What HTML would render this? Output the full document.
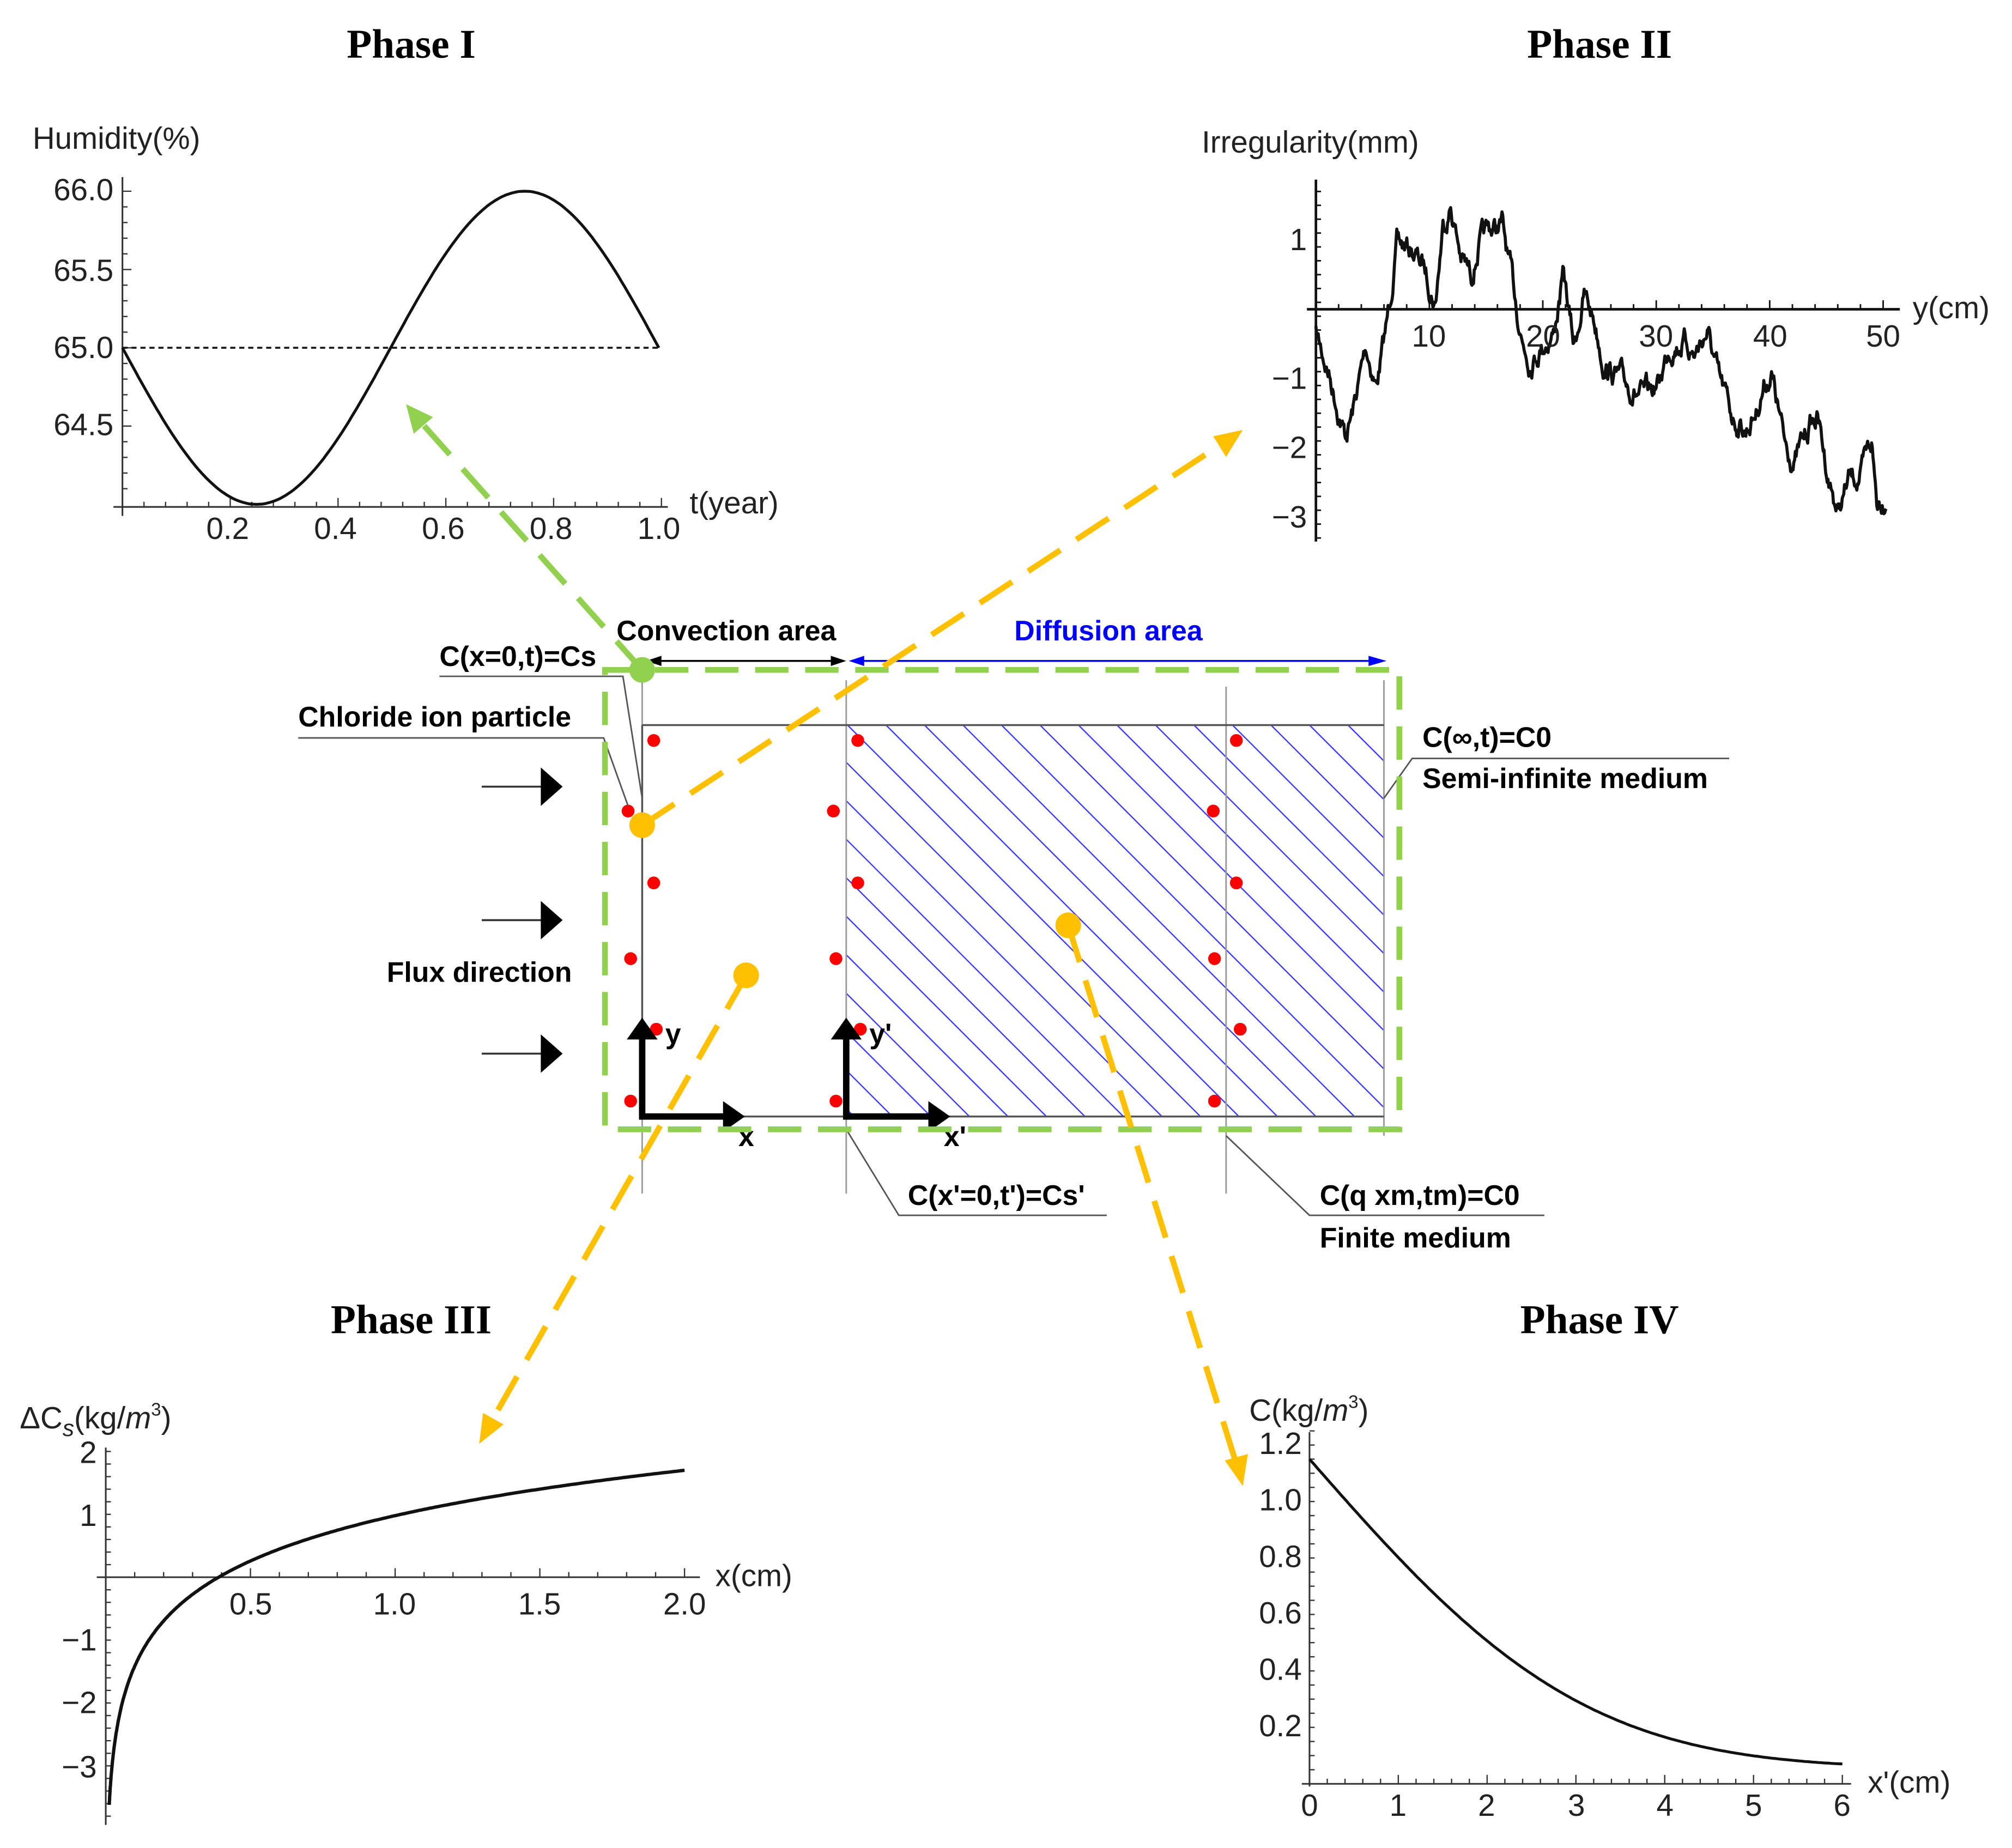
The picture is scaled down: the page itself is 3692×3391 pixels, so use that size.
<!DOCTYPE html>
<html><head><meta charset="utf-8"><style>
html,body{margin:0;padding:0;background:#fff;}
svg{display:block;}
.t{font-family:"Liberation Serif",serif;font-weight:bold;font-size:32px;}
.a{font-family:"Liberation Sans",sans-serif;font-size:24px;fill:#222;}
.b{font-family:"Liberation Sans",sans-serif;font-weight:bold;font-size:22px;}
</style></head><body>
<svg id="s" width="3692" height="3391" viewBox="0 0 1567 1440" xmlns="http://www.w3.org/2000/svg">
<defs>
<clipPath id="hc"><rect x="659" y="565" width="419" height="305"/></clipPath>
</defs>
<rect width="1567" height="1440" fill="#fff"/>

<text class="t" x="320" y="45" text-anchor="middle">Phase I</text>
<text class="t" x="1246" y="45" text-anchor="middle">Phase II</text>
<text class="t" x="320" y="1039" text-anchor="middle">Phase III</text>
<text class="t" x="1246" y="1039" text-anchor="middle">Phase IV</text>

<!-- Plot 1 -->
<g stroke="#333" stroke-width="1.3" fill="none">
<line x1="95" y1="138" x2="95" y2="402"/>
<line x1="88" y1="395" x2="520" y2="395"/>
</g>
<g id="p1ticks" stroke="#333" stroke-width="1"></g>
<path id="p1c" fill="none" stroke="#111" stroke-width="2.2"/>
<line x1="95" y1="271" x2="515" y2="271" stroke="#111" stroke-width="1.5" stroke-dasharray="4 3"/>
<text class="a" x="25" y="116">Humidity(%)</text>
<g class="a" text-anchor="end">
<text x="88" y="156">66.0</text><text x="88" y="219">65.5</text><text x="88" y="279">65.0</text><text x="88" y="339">64.5</text>
</g>
<g class="a" text-anchor="middle">
<text x="177" y="420">0.2</text><text x="261" y="420">0.4</text><text x="345" y="420">0.6</text><text x="429" y="420">0.8</text><text x="513" y="420">1.0</text>
</g>
<text class="a" x="537" y="400">t(year)</text>

<!-- Plot 2 -->
<g stroke="#111" stroke-width="2" fill="none">
<line x1="1025" y1="140" x2="1025" y2="422"/>
<line x1="1018" y1="241" x2="1480" y2="241"/>
</g>
<g id="p2ticks" stroke="#111" stroke-width="1.2"></g>
<path id="p2c" fill="none" stroke="#111" stroke-width="2.4" stroke-linejoin="round"/>
<text class="a" x="936" y="119">Irregularity(mm)</text>
<g class="a" text-anchor="end">
<text x="1018" y="195">1</text><text x="1018" y="303">−1</text><text x="1018" y="357">−2</text><text x="1018" y="411">−3</text>
</g>
<g class="a" text-anchor="middle">
<text x="1113" y="270">10</text><text x="1202" y="270">20</text><text x="1290" y="270">30</text><text x="1379" y="270">40</text><text x="1467" y="270">50</text>
</g>
<text class="a" x="1490" y="248">y(cm)</text>

<!-- Plot 3 -->
<g stroke="#333" stroke-width="1.3" fill="none">
<line x1="82" y1="1128" x2="82" y2="1422"/>
<line x1="75" y1="1229" x2="545" y2="1229"/>
</g>
<g id="p3ticks" stroke="#333" stroke-width="1"></g>
<path id="p3c" fill="none" stroke="#111" stroke-width="2.6"/>
<text class="a" x="15" y="1113">ΔC<tspan font-style="italic" font-size="18" dy="6">s</tspan><tspan dy="-6">(kg/</tspan><tspan font-style="italic">m</tspan><tspan font-size="14" dy="-10">3</tspan><tspan dy="10">)</tspan></text>
<g class="a" text-anchor="end">
<text x="75" y="1140">2</text><text x="75" y="1189">1</text><text x="75" y="1286">−1</text><text x="75" y="1335">−2</text><text x="75" y="1385">−3</text>
</g>
<g class="a" text-anchor="middle">
<text x="195" y="1258">0.5</text><text x="307" y="1258">1.0</text><text x="420" y="1258">1.5</text><text x="533" y="1258">2.0</text>
</g>
<text class="a" x="557" y="1236">x(cm)</text>

<!-- Plot 4 -->
<g stroke="#333" stroke-width="1.3" fill="none">
<line x1="1020" y1="1116" x2="1020" y2="1392"/>
<line x1="1014" y1="1390" x2="1442" y2="1390"/>
</g>
<g id="p4ticks" stroke="#333" stroke-width="1"></g>
<path id="p4c" fill="none" stroke="#111" stroke-width="2.2"/>
<text class="a" x="973" y="1107" font-size="22">C(kg/<tspan font-style="italic">m</tspan><tspan font-size="14" dy="-10">3</tspan><tspan dy="10">)</tspan></text>
<g class="a" text-anchor="end" font-size="21">
<text x="1014" y="1133">1.2</text><text x="1014" y="1177">1.0</text><text x="1014" y="1221">0.8</text><text x="1014" y="1265">0.6</text><text x="1014" y="1309">0.4</text><text x="1014" y="1353">0.2</text>
</g>
<g class="a" text-anchor="middle" font-size="21">
<text x="1020" y="1415">0</text><text x="1089" y="1415">1</text><text x="1158" y="1415">2</text><text x="1228" y="1415">3</text><text x="1297" y="1415">4</text><text x="1366" y="1415">5</text><text x="1435" y="1415">6</text>
</g>
<text class="a" x="1455" y="1397" font-size="22">x'(cm)</text>

<!-- Center diagram -->
<g id="hatch" clip-path="url(#hc)" stroke="#3a3aff" stroke-width="1"></g>
<g stroke="#999" stroke-width="1.2">
<line x1="500" y1="530" x2="500" y2="930"/>
<line x1="659" y1="530" x2="659" y2="930"/>
<line x1="955" y1="535" x2="955" y2="930"/>
<line x1="1078" y1="530" x2="1078" y2="885"/>
</g>
<g stroke="#555" stroke-width="1.5" fill="none">
<line x1="500" y1="565" x2="1078" y2="565"/>
<line x1="500" y1="870" x2="1078" y2="870"/>
<line x1="500" y1="565" x2="500" y2="870"/>
</g>
<g fill="#f00" id="dots"></g>

<g stroke="#000" stroke-width="5" fill="none">
<polyline points="500,808 500,870 565,870"/>
<polyline points="659,808 659,870 725,870"/>
</g>
<g fill="#000">
<path d="M488,810 L500,793 L512,810 z"/><path d="M563,858 L580,870 L563,882 z"/>
<path d="M647,810 L659,793 L671,810 z"/><path d="M723,858 L740,870 L723,882 z"/>
</g>
<g class="b">
<text x="518" y="813">y</text><text x="575" y="893">x</text>
<text x="677" y="813">y'</text><text x="735" y="893">x'</text>
</g>

<g stroke="#333" stroke-width="1.5">
<line x1="375" y1="613" x2="422" y2="613"/><line x1="375" y1="717" x2="422" y2="717"/><line x1="375" y1="821" x2="422" y2="821"/>
</g>
<g fill="#000">
<path d="M421,598 L438,613 L421,628 z"/><path d="M421,702 L438,717 L421,732 z"/><path d="M421,806 L438,821 L421,836 z"/>
</g>

<line x1="505" y1="515" x2="655" y2="515" stroke="#000" stroke-width="1.5"/>
<path d="M503,515 L515,511 L515,519 z" fill="#000"/><path d="M659,515 L647,511 L647,519 z" fill="#000"/>
<line x1="663" y1="515" x2="1075" y2="515" stroke="#00f" stroke-width="1.5"/>
<path d="M661,515 L673,511 L673,519 z" fill="#00f"/><path d="M1080,515 L1066,511 L1066,519 z" fill="#00f"/>
<text class="b" x="480" y="499">Convection area</text>
<text class="b" x="790" y="499" fill="#00f">Diffusion area</text>

<g stroke="#555" stroke-width="1.2" fill="none">
<polyline points="342,527 485,527 500,622"/>
<polyline points="232,575 470,575 489,628"/>
<polyline points="1347,591 1100,591 1078,622"/>
<polyline points="862,947 700,947 659,880"/>
<polyline points="1203,947 1020,947 955,885"/>
</g>
<g class="b">
<text x="342" y="519">C(x=0,t)=Cs</text>
<text x="232" y="566">Chloride ion particle</text>
<text x="1108" y="582">C(∞,t)=C0</text>
<text x="1108" y="614">Semi-infinite medium</text>
<text x="301" y="765">Flux direction</text>
<text x="707" y="939">C(x'=0,t')=Cs'</text>
<text x="1028" y="939">C(q xm,tm)=C0</text>
<text x="1028" y="972">Finite medium</text>
</g>

<rect x="471" y="522" width="619" height="358" fill="none" stroke="#92d050" stroke-width="4.5" stroke-dasharray="26 13"/>

<g stroke-width="4.5" stroke-dasharray="30 15" fill="none">
<line x1="500" y1="522" x2="324" y2="325" stroke="#92d050"/>
<line x1="500" y1="643" x2="956" y2="343" stroke="#ffc000"/>
<line x1="581" y1="760" x2="380" y2="1112" stroke="#ffc000"/>
<line x1="832" y1="721" x2="964" y2="1144" stroke="#ffc000"/>
</g>
<path d="M316,315 L337,325 L322,338 z" fill="#92d050"/>
<path d="M968,335 L955,356 L945,340 z" fill="#ffc000"/>
<path d="M373,1125 L376,1101 L392,1110 z" fill="#ffc000"/>
<path d="M968,1158 L954,1138 L972,1133 z" fill="#ffc000"/>
<circle cx="500" cy="522" r="10" fill="#92d050"/>
<circle cx="500" cy="643" r="10" fill="#ffc000"/>
<circle cx="581" cy="760" r="10" fill="#ffc000"/>
<circle cx="832" cy="721" r="10" fill="#ffc000"/>
</svg>
<script>
var NS="http://www.w3.org/2000/svg";
function el(p,t,a){var e=document.createElementNS(NS,t);for(var k in a)e.setAttribute(k,a[k]);document.getElementById(p).appendChild(e);return e;}
var d="";for(var i=0;i<=200;i++){var t=i/200;var x=95+418*t;var y=271+122*Math.sin(2*Math.PI*t);d+=(i?"L":"M")+x.toFixed(1)+","+y.toFixed(1);}
document.getElementById("p1c").setAttribute("d",d);
for(var i=1;i<=25;i++){var x=95+420*i/25;var L=(i%5==0)?7:4;el("p1ticks","line",{x1:x,y1:395,x2:x,y2:395-L});}
for(var v=64.1;v<=66.05;v+=0.1){var y=271-(v-65)*122;var L=(Math.abs((v*2)-Math.round(v*2))<0.01)?7:4;el("p1ticks","line",{x1:95,y1:y,x2:95+L,y2:y});}
var seed=7;function rnd(){seed=(seed*16807)%2147483647;return seed/2147483647;}
var W=[[1025,260],[1035,290],[1048,340],[1054,320],[1064,270],[1072,300],[1080,255],[1088,190],[1100,195],[1110,210],[1118,235],[1124,175],[1130,160],[1138,200],[1146,215],[1152,190],[1160,180],[1170,175],[1178,220],[1186,265],[1192,280],[1200,270],[1210,260],[1218,215],[1226,270],[1234,230],[1242,250],[1250,285],[1262,295],[1280,310],[1292,300],[1300,270],[1312,265],[1320,275],[1330,258],[1340,300],[1350,325],[1360,335],[1368,320],[1374,300],[1380,290],[1390,345],[1398,360],[1410,330],[1416,325],[1424,370],[1432,400],[1440,375],[1450,370],[1458,345],[1462,390],[1470,385]];
d="";var n=0;var off=0;
for(var k=0;k<W.length-1;k++){var a=W[k],b=W[k+1];var steps=Math.max(2,Math.round((b[0]-a[0])/0.6));for(var s=0;s<steps;s++){var f=s/steps;var x=a[0]+(b[0]-a[0])*f;off=off*0.8+(rnd()-0.5)*12;var y=a[1]+(b[1]-a[1])*f+off;d+=(n++?"L":"M")+x.toFixed(1)+","+y.toFixed(1);}}
document.getElementById("p2c").setAttribute("d",d);
for(var i=1;i<=25;i++){var x=1025+442*i/25;var L=(i%5==0)?7:4;el("p2ticks","line",{x1:x,y1:241,x2:x,y2:241-L});}
for(var v=-3.3;v<=1.8;v+=0.2){var y=241-v*54;el("p2ticks","line",{x1:1025,y1:y,x2:1029,y2:y});}
d="";for(var i=0;i<=300;i++){var xv=0.012+(2-0.012)*Math.pow(i/300,2);var yv=1.04*Math.log(xv/0.39);if(yv<-3.85)yv=-3.85;var x=82+225.5*xv;var y=1229-49*yv;d+=(i?"L":"M")+x.toFixed(1)+","+y.toFixed(1);}
document.getElementById("p3c").setAttribute("d",d);
for(var i=1;i<=20;i++){var x=82+225.5*i/10;var L=(i%5==0)?7:4;el("p3ticks","line",{x1:x,y1:1229,x2:x,y2:1229-L});}
for(var v=-3.8;v<=2.05;v+=0.2){var y=1229-49*v;el("p3ticks","line",{x1:82,y1:y,x2:86,y2:y});}
function erfc(z){var t=1/(1+0.5*z);return t*Math.exp(-z*z-1.26551223+t*(1.00002368+t*(0.37409196+t*(0.09678418+t*(-0.18628806+t*(0.27886807+t*(-1.13520398+t*(1.48851587+t*(-0.82215223+t*0.17087277)))))))));}
d="";for(var i=0;i<=200;i++){var xv=6*i/200;var yv=0.055+1.095*erfc(xv/3.45);var x=1020+69.2*xv;var y=1390-220*yv;d+=(i?"L":"M")+x.toFixed(1)+","+y.toFixed(1);}
document.getElementById("p4c").setAttribute("d",d);
for(var i=1;i<=30;i++){var x=1020+69.2*i/5;var L=(i%5==0)?7:4;el("p4ticks","line",{x1:x,y1:1390,x2:x,y2:1390-L});}
for(var v=0.05;v<=1.26;v+=0.05){var y=1390-220*v;el("p4ticks","line",{x1:1020,y1:y,x2:1024,y2:y});}
for(var x=300;x<1100;x+=30){el("hatch","line",{x1:x,y1:565,x2:x+320,y2:885});}
var P=[[509,577],[489,632],[509,688],[491,747],[511,802],[491,858],[668,577],[649,632],[668,688],[651,747],[670,802],[651,858],[963,577],[945,632],[963,688],[946,747],[966,802],[946,858]];
P.forEach(function(p){el("dots","circle",{cx:p[0],cy:p[1],r:5});});
</script>
</body></html>
